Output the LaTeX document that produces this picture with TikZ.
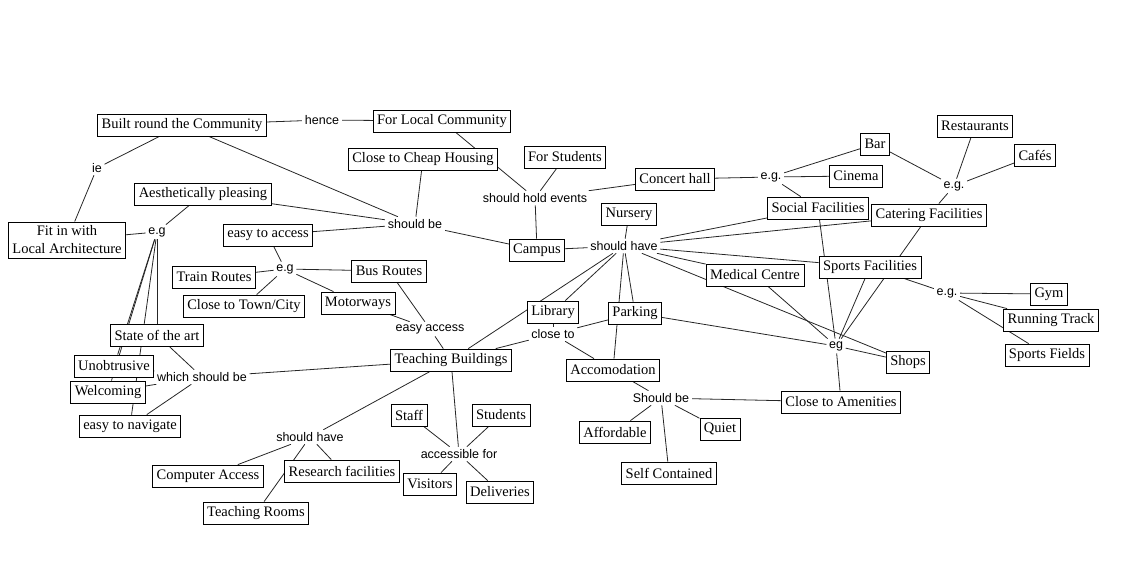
\documentclass[tikz,border=0pt]{standalone}
\usepackage{fontspec}
\setmainfont{Liberation Serif}
\newfontfamily\lsans{Liberation Sans}
\usetikzlibrary{backgrounds}
\begin{document}
\begin{tikzpicture}[x=1pt,y=-1pt,
  box/.style={draw, fill=white, line width=0.8pt, font=\fontsize{14.5}{18}\selectfont, inner xsep=4pt, inner ysep=2pt, minimum height=22pt},
  lbl/.style={fill=white, font=\lsans\fontsize{12.5}{14}\selectfont, inner sep=2.5pt},
  link/.style={line width=0.8pt, black!85}]
\useasboundingbox (0,0) rectangle (1139,565);
% boxes
\node[box] (built) at (182,125) {Built round the Community};
\node[box] (forlocal) at (442,121) {For Local Community};
\node[box] (cheap) at (423,159) {Close to Cheap Housing};
\node[box] (forstud) at (565,157) {For Students};
\node[box] (concert) at (675,179) {Concert hall};
\node[box] (bar) at (875,144) {Bar};
\node[box] (rest) at (975,126) {Restaurants};
\node[box] (cafes) at (1035,155) {Cafés};
\node[box] (cinema) at (856,176) {Cinema};
\node[box] (social) at (818,208) {Social Facilities};
\node[box] (catering) at (929,215) {Catering Facilities};
\node[box] (sports) at (870,267) {Sports Facilities};
\node[box] (gym) at (1049,294) {Gym};
\node[box] (track) at (1051,320) {Running Track};
\node[box] (fields) at (1047,355) {Sports Fields};
\node[box] (medical) at (755,275) {Medical Centre};
\node[box] (shops) at (908,362) {Shops};
\node[box] (amen) at (841,402) {Close to Amenities};
\node[box] (nursery) at (629,214) {Nursery};
\node[box] (campus) at (537,250) {Campus};
\node[box] (library) at (553,312) {Library};
\node[box] (parking) at (635,313) {Parking};
\node[box] (accom) at (613,370) {Accomodation};
\node[box] (afford) at (615,432) {Affordable};
\node[box] (quiet) at (720,429) {Quiet};
\node[box] (selfc) at (669,473) {Self Contained};
\node[box] (teach) at (451,360) {Teaching Buildings};
\node[box] (staff) at (409,415) {Staff};
\node[box] (students) at (501,415) {Students};
\node[box] (visitors) at (430,484) {Visitors};
\node[box] (deliv) at (500,492) {Deliveries};
\node[box] (research) at (342,471) {Research facilities};
\node[box] (comp) at (208,476) {Computer Access};
\node[box] (rooms) at (256,513) {Teaching Rooms};
\node[box] (nav) at (130,426) {easy to navigate};
\node[box] (welc) at (108,392) {Welcoming};
\node[box] (unob) at (114,366) {Unobtrusive};
\node[box] (state) at (157,335) {State of the art};
\node[box, align=center, inner ysep=4pt] (fit) at (67,240) {Fit in with\\Local Architecture};
\node[box] (aesth) at (203,194) {Aesthetically pleasing};
\node[box] (easyacc) at (268,235) {easy to access};
\node[box] (train) at (214,277) {Train Routes};
\node[box] (town) at (244,306) {Close to Town/City};
\node[box] (bus) at (389,271) {Bus Routes};
\node[box] (motor) at (358,303) {Motorways};
% labels
\node[lbl] (hence) at (322,120) {hence};
\node[lbl] (ie) at (97,168) {ie};
\node[lbl] (egA) at (157,232) {e.g};
\node[lbl] (egB) at (285,269) {e.g};
\node[lbl] (shouldbe) at (415,224) {should be};
\node[lbl] (holdev) at (535,198) {should hold events};
\node[lbl] (shave) at (624,246) {should have};
\node[lbl] (easyaccess) at (430,329) {easy access};
\node[lbl] (closeto) at (553,334) {close to};
\node[lbl] (shouldbeB) at (661,398) {Should be};
\node[lbl] (accfor) at (459,454) {accessible for};
\node[lbl] (which) at (202,377) {which should be};
\node[lbl] (shaveB) at (310,437) {should have};
\node[lbl] (egC) at (771,177) {e.g.};
\node[lbl] (egD) at (954,186) {e.g.};
\node[lbl] (egE) at (947,293) {e.g.};
\node[lbl] (egF) at (836,346) {eg};
% connectors
\begin{pgfonlayer}{background}
\draw[link] (built) -- (hence);
\draw[link] (hence) -- (forlocal);
\draw[link] (built) -- (ie);
\draw[link] (ie) -- (fit);
\draw[link] (built) -- (shouldbe);
\draw[link] (aesth) -- (shouldbe);
\draw[link] (easyacc) -- (shouldbe);
\draw[link] (cheap) -- (shouldbe);
\draw[link] (shouldbe) -- (campus);
\draw[link] (forlocal) -- (holdev);
\draw[link] (forstud) -- (holdev);
\draw[link] (concert) -- (holdev);
\draw[link] (holdev) -- (campus);
\draw[link] (fit) -- (egA);
\draw[link] (aesth) -- (egA);
\draw[link] (egA) -- (state);
\draw[link] (egA) -- (unob);
\draw[link] (egA) -- (welc);
\draw[link] (egA) -- (nav);
\draw[link] (easyacc) -- (egB);
\draw[link] (egB) -- (train);
\draw[link] (egB) -- (town);
\draw[link] (egB) -- (bus);
\draw[link] (egB) -- (motor);
\draw[link] (bus) -- (easyaccess);
\draw[link] (motor) -- (easyaccess);
\draw[link] (easyaccess) -- (teach);
\draw[link] (teach) -- (which);
\draw[link] (which) -- (state);
\draw[link] (which) -- (unob);
\draw[link] (which) -- (welc);
\draw[link] (which) -- (nav);
\draw[link] (teach) -- (shaveB);
\draw[link] (shaveB) -- (comp);
\draw[link] (shaveB) -- (research);
\draw[link] (shaveB) -- (rooms);
\draw[link] (teach) -- (accfor);
\draw[link] (accfor) -- (staff);
\draw[link] (accfor) -- (students);
\draw[link] (accfor) -- (visitors);
\draw[link] (accfor) -- (deliv);
\draw[link] (campus) -- (shave);
\draw[link] (shave) -- (nursery);
\draw[link] (shave) -- (social);
\draw[link] (shave) -- (catering);
\draw[link] (shave) -- (sports);
\draw[link] (shave) -- (medical);
\draw[link] (shave) -- (shops);
\draw[link] (shave) -- (library);
\draw[link] (shave) -- (teach);
\draw[link] (shave) -- (parking);
\draw[link] (shave) -- (accom);
\draw[link] (library) -- (closeto);
\draw[link] (parking) -- (closeto);
\draw[link] (closeto) -- (teach);
\draw[link] (closeto) -- (accom);
\draw[link] (accom) -- (shouldbeB);
\draw[link] (shouldbeB) -- (afford);
\draw[link] (shouldbeB) -- (quiet);
\draw[link] (shouldbeB) -- (selfc);
\draw[link] (shouldbeB) -- (amen);
\draw[link] (concert) -- (egC);
\draw[link] (egC) -- (bar);
\draw[link] (egC) -- (cinema);
\draw[link] (egC) -- (social);
\draw[link] (bar) -- (egD);
\draw[link] (rest) -- (egD);
\draw[link] (cafes) -- (egD);
\draw[link] (egD) -- (catering);
\draw[link] (sports) -- (egE);
\draw[link] (egE) -- (gym);
\draw[link] (egE) -- (track);
\draw[link] (egE) -- (fields);
\draw[link] (social) -- (egF);
\draw[link] (catering) -- (egF);
\draw[link] (sports) -- (egF);
\draw[link] (medical) -- (egF);
\draw[link] (parking) -- (egF);
\draw[link] (egF) -- (shops);
\draw[link] (egF) -- (amen);
\end{pgfonlayer}
\end{tikzpicture}
\end{document}
